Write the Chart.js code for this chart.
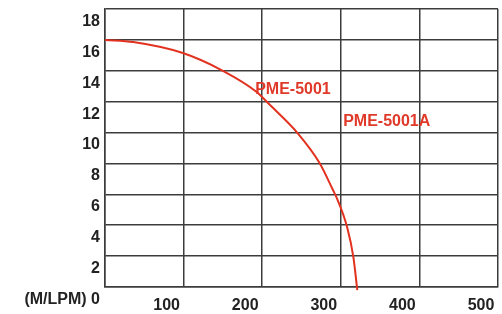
<!DOCTYPE html>
<html>
<head>
<meta charset="utf-8">
<script src="https://cdn.jsdelivr.net/npm/chart.js@4/dist/chart.umd.min.js"></script>
<style>
  html, body { margin: 0; padding: 0; background: #fff; }
  #wrap { width: 502px; height: 314px; position: relative; }
</style>
</head>
<body>
<div id="wrap"><canvas id="chart-curve"></canvas></div>
<script>
// flow (LPM) vs head (M)
var flowValues = [0, 36, 99, 150, 193, 210, 245, 273, 290, 296, 308, 316, 321];
var headValues = [16, 15.86, 15.15, 14, 12.63, 11.78, 9.97, 8.03, 6.28, 5.63, 3.88, 1.94, -0.2];

var xTicks = [0, 100, 200, 300, 400, 500];
var yTicks = [0, 2, 4, 6, 8, 10, 12, 14, 16, 18];

// curve labels, anchored in data units (left edge, vertical middle)
var curveLabels = ["PME-5001", "PME-5001A"];
var labelFlow = [191, 303];
var labelHead = [12.8, 10.7];

(function () {
  var points = flowValues.map(function (x, i) {
    return { x: x, y: headValues[i] };
  });

  var gridColor = "#3c3c3c";
  var tickFont = { family: "'Liberation Sans', Arial, sans-serif", size: 16, weight: "bold" };

  var curveText = {
    id: "curveText",
    afterDatasetsDraw: function (chart) {
      var ctx = chart.ctx;
      var xs = chart.scales.x;
      var ys = chart.scales.y;
      ctx.save();
      ctx.font = "bold 16px 'Liberation Sans', Arial, sans-serif";
      ctx.fillStyle = "#e0392a";
      ctx.textAlign = "left";
      ctx.textBaseline = "middle";
      curveLabels.forEach(function (t, i) {
        ctx.fillText(t, xs.getPixelForValue(labelFlow[i]), ys.getPixelForValue(labelHead[i]));
      });
      ctx.restore();
    },
  };

  var bg = {
    id: "bg",
    beforeDraw: function (chart) {
      var ctx = chart.ctx;
      ctx.save();
      ctx.fillStyle = "#fff";
      ctx.fillRect(0, 0, chart.width, chart.height);
      ctx.restore();
    },
  };

  new Chart(document.getElementById("chart-curve"), {
    type: "line",
    data: {
      datasets: [
        {
          label: "PME-5001",
          data: points,
          borderColor: "#e2321f",
          borderWidth: 2,
          pointRadius: 0,
          fill: false,
          cubicInterpolationMode: "monotone",
          clip: false,
        },
      ],
    },
    options: {
      responsive: true,
      maintainAspectRatio: false,
      animation: false,
      events: [],
      layout: { padding: { top: 9, right: 4, left: 0, bottom: 0 } },
      plugins: { legend: { display: false }, tooltip: { enabled: false } },
      scales: {
        x: {
          type: "linear",
          min: 0,
          max: 500,
          afterBuildTicks: function (scale) {
            scale.ticks = xTicks.map(function (v) { return { value: v }; });
          },
          afterFit: function (scale) {
            scale.height = 27;
            scale.paddingLeft = 0;
            scale.paddingRight = 0;
          },
          grid: { color: gridColor, lineWidth: 1.5, drawTicks: false },
          border: { color: gridColor, width: 1.5 },
          ticks: {
            font: tickFont,
            color: "#222",
            padding: 9,
            labelOffset: -17,
            maxRotation: 0,
            autoSkip: false,
            callback: function (v) { return v === 0 ? "" : String(v); },
          },
        },
        y: {
          type: "linear",
          min: 0,
          max: 18,
          afterBuildTicks: function (scale) {
            scale.ticks = yTicks.map(function (v) { return { value: v }; });
          },
          afterFit: function (scale) {
            scale.width = 105;
            scale.paddingTop = 0;
            scale.paddingBottom = 0;
          },
          grid: { color: gridColor, lineWidth: 1.5, drawTicks: false },
          border: { color: gridColor, width: 1.5 },
          ticks: {
            font: tickFont,
            color: "#222",
            padding: 5,
            labelOffset: 12.5,
            autoSkip: false,
            callback: function (v) { return v === 0 ? "(M/LPM) 0" : String(v); },
          },
        },
      },
    },
    plugins: [bg, curveText],
  });
})();
</script>
</body>
</html>
